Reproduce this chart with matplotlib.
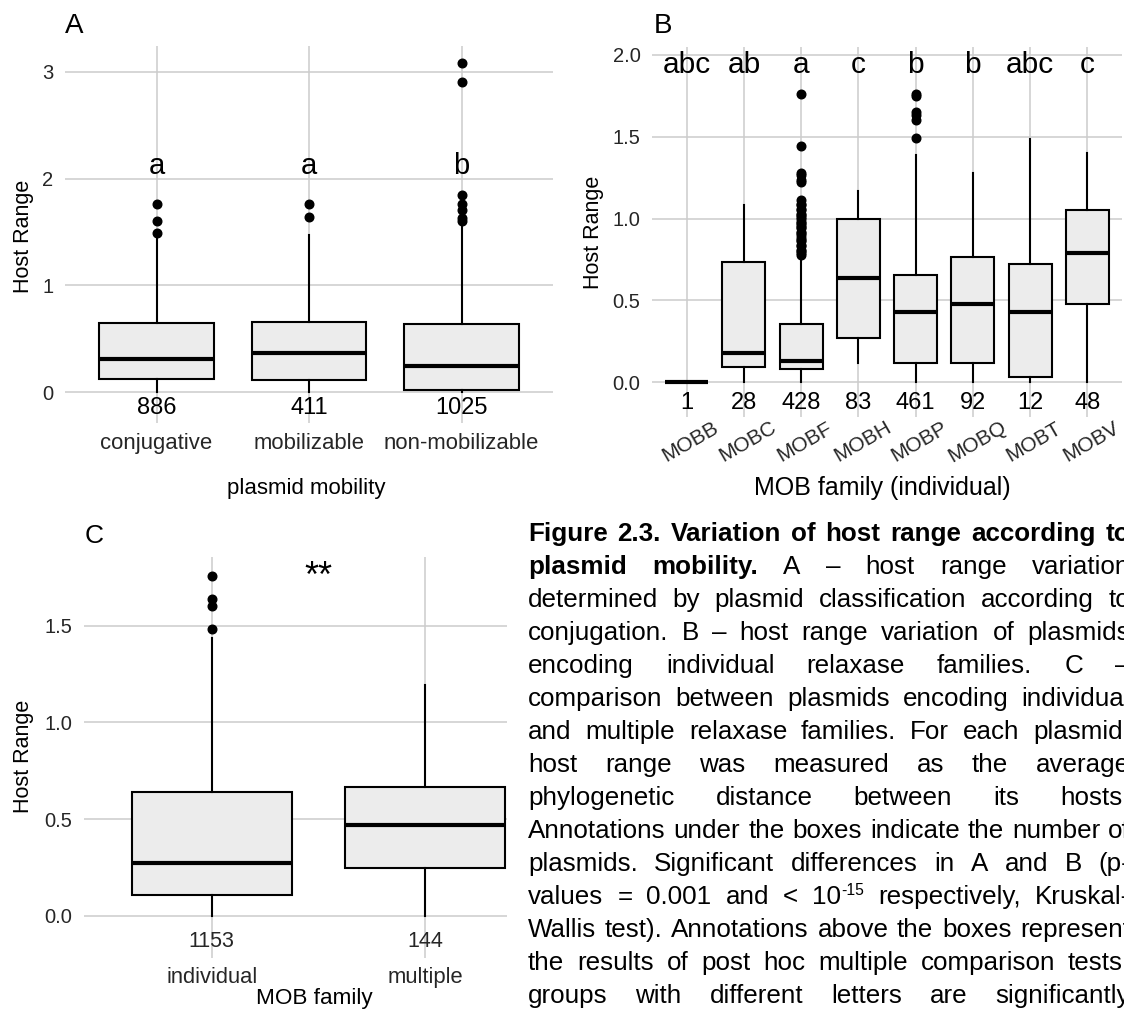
import matplotlib
matplotlib.use("Agg")
import matplotlib.pyplot as plt
import matplotlib.transforms as mtransforms

plt.rcParams["font.family"] = ["Liberation Sans", "DejaVu Sans"]

W, H = 1124, 1010

# --- panel A: host range by plasmid mobility
mob_groups = ["conjugative", "mobilizable", "non-mobilizable"]
mob_counts = ["886", "411", "1025"]
mob_letters = ["a", "a", "b"]
mob_q1 = [0.12, 0.115, 0.02]
mob_med = [0.31, 0.37, 0.25]
mob_q3 = [0.65, 0.66, 0.64]
mob_lo = [0.0, 0.0, 0.0]
mob_hi = [1.46, 1.47, 1.57]
mob_fliers = [[1.49, 1.60, 1.76],
              [1.64, 1.76],
              [1.60, 1.63, 1.71, 1.76, 1.85, 2.90, 3.08]]

# --- panel B: host range by individual MOB family
fam_groups = ["MOBB", "MOBC", "MOBF", "MOBH", "MOBP", "MOBQ", "MOBT", "MOBV"]
fam_counts = ["1", "28", "428", "83", "461", "92", "12", "48"]
fam_letters = ["abc", "ab", "a", "c", "b", "b", "abc", "c"]
fam_q1 = [0.0, 0.096, 0.080, 0.270, 0.117, 0.117, 0.035, 0.477]
fam_med = [0.0, 0.182, 0.131, 0.635, 0.428, 0.479, 0.432, 0.791]
fam_q3 = [0.0, 0.735, 0.359, 0.995, 0.655, 0.763, 0.723, 1.052]
fam_lo = [0.0, 0.0, 0.0, 0.121, 0.0, 0.0, 0.0, 0.0]
fam_hi = [0.0, 1.082, 0.765, 1.168, 1.387, 1.276, 1.483, 1.40]
fam_fliers = [[], [],
              [0.78, 0.79, 0.80, 0.81, 0.83, 0.84, 0.86, 0.87, 0.88, 0.90,
               0.91, 0.92, 0.94, 0.95, 0.96, 0.97, 0.98, 1.00, 1.01, 1.02,
               1.03, 1.05, 1.06, 1.08, 1.09, 1.11, 1.22, 1.235, 1.265,
               1.275, 1.44, 1.76],
              [],
              [1.49, 1.60, 1.63, 1.65, 1.745, 1.76],
              [], [], []]

# --- panel C: individual vs multiple MOB families
nmob_groups = ["individual", "multiple"]
nmob_counts = ["1153", "144"]
nmob_q1 = [0.106, 0.247]
nmob_med = [0.271, 0.469]
nmob_q3 = [0.641, 0.667]
nmob_lo = [0.0, 0.0]
nmob_hi = [1.435, 1.193]
nmob_fliers = [[1.485, 1.60, 1.637, 1.757], []]

caption_lines = [
    "Figure 2.3. Variation of host range according to",
    "plasmid mobility. A \u2013 host range variation",
    "determined by plasmid classification according to",
    "conjugation. B \u2013 host range variation of plasmids",
    "encoding individual relaxase families. C \u2013",
    "comparison between plasmids encoding individual",
    "and multiple relaxase families. For each plasmid,",
    "host range was measured as the average",
    "phylogenetic distance between its hosts.",
    "Annotations under the boxes indicate the number of",
    "plasmids. Significant differences in A and B (p-",
    "values = 0.001 and < 10^-15 respectively, Kruskal-",
    "Wallis test). Annotations above the boxes represent",
    "the results of post hoc multiple comparison tests:",
    "groups with different letters are significantly",
]
caption_bold = {0: 8, 1: 2}   # leading bold words per line

fig = plt.figure(figsize=(W / 100, H / 100), dpi=100)
TXT = "#262626"


def px_axes(x0, y0, x1, y1):
    return fig.add_axes([x0 / W, 1 - y1 / H, (x1 - x0) / W, (y1 - y0) / H])


def ftext(x, y, s, **kw):
    return fig.text(x / W, 1 - y / H, s, **kw)


def boxplot_panel(ax, q1, med, q3, lo, hi, fliers, xlim, ylim, yticks, yfmt):
    stats = [dict(q1=a, med=m, q3=b, whislo=l, whishi=h, fliers=f)
             for a, m, b, l, h, f in zip(q1, med, q3, lo, hi, fliers)]
    pos = list(range(1, len(stats) + 1))
    ax.bxp(stats, positions=pos, widths=0.75, patch_artist=True,
           showcaps=False, manage_ticks=False,
           boxprops=dict(facecolor="#ececec", edgecolor="black", linewidth=1.5),
           medianprops=dict(color="black", linewidth=3.0, solid_capstyle="butt"),
           whiskerprops=dict(color="black", linewidth=1.5),
           flierprops=dict(marker="o", markerfacecolor="black",
                           markeredgecolor="black", markersize=6.2))
    ax.set_xlim(*xlim)
    ax.set_ylim(*ylim)
    ax.set_xticks(pos)
    ax.set_xticklabels([])
    ax.set_yticks(yticks)
    ax.set_yticklabels([yfmt.format(v) for v in yticks])
    ax.tick_params(length=0, labelsize=14.5, pad=8.5, labelcolor=TXT)
    for s in ax.spines.values():
        s.set_visible(False)
    ax.grid(True, color="#cccccc", lw=1.1)
    ax.set_axisbelow(True)
    return pos


def xlabels(ax, pos, labels, ypx, dx=0.0, **kw):
    tr = mtransforms.blended_transform_factory(ax.transData, fig.transFigure)
    for p, lab in zip(pos, labels):
        ax.text(p + dx, 1 - ypx / H, lab, transform=tr, ha="center",
                va="center", color=TXT, **kw)


# ---------------- Panel A
ax_a = px_axes(65, 46, 553, 423.3)
pos = boxplot_panel(ax_a, mob_q1, mob_med, mob_q3, mob_lo, mob_hi, mob_fliers,
                    (0.4, 3.6), (-0.29, 3.24), [0, 1, 2, 3], "{:.0f}")
for p, n, l in zip(pos, mob_counts, mob_letters):
    ax_a.text(p, -0.15, n, ha="center", va="center", fontsize=17)
    ax_a.text(p, 2.12, l, ha="center", va="center", fontsize=21)
xlabels(ax_a, pos, mob_groups, 443.3, fontsize=15.9)
ftext(306, 488.3, "plasmid mobility", ha="center", va="center", fontsize=16)
ftext(23.2, 236.7, "Host Range", ha="center", va="center", rotation=90,
      fontsize=15.5)
ftext(65, 33.3, "A", fontsize=20, va="baseline")

# ---------------- Panel B
ax_b = px_axes(652.4, 46.7, 1121.6, 416.7)
pos = boxplot_panel(ax_b, fam_q1, fam_med, fam_q3, fam_lo, fam_hi, fam_fliers,
                    (0.4, 8.6), (-0.209, 2.048), [0, 0.5, 1.0, 1.5, 2.0], "{:.1f}")
for p, n, l in zip(pos, fam_counts, fam_letters):
    ax_b.text(p, -0.127, n, ha="center", va="center", fontsize=17)
    ax_b.text(p, 1.936, l, ha="center", va="center", fontsize=21.5)
tr = mtransforms.blended_transform_factory(ax_b.transData, fig.transFigure)
for p, lab in zip(pos, fam_groups):
    ax_b.text(p + 0.07, 1 - 442 / H, lab, transform=tr, ha="center", va="center",
              rotation=30, rotation_mode="anchor", fontsize=15, color=TXT)
ftext(882, 488.3, "MOB family (individual)", ha="center", va="center", fontsize=18)
ftext(594, 232.5, "Host Range", ha="center", va="center", rotation=90,
      fontsize=15.5)
ftext(654, 33.3, "B", fontsize=20, va="baseline")

# ---------------- Panel C (right side hidden under the caption)
ax_c = px_axes(83.7, 557.3, 507, 958.3)
pos = boxplot_panel(ax_c, nmob_q1, nmob_med, nmob_q3, nmob_lo, nmob_hi,
                    nmob_fliers, (0.4, 0.4 + (507 - 83.7) / 213.3),
                    (-0.22, 1.854), [0, 0.5, 1.0, 1.5], "{:.1f}")
for p, n in zip(pos, nmob_counts):
    ax_c.text(p, -0.134, n, ha="center", va="center", fontsize=15.5, color=TXT)
ax_c.text(1.5, 1.75, "**", ha="center", va="center", fontsize=26)
xlabels(ax_c, pos, nmob_groups, 977.7, fontsize=15.8)
ftext(314.7, 998.3, "MOB family", ha="center", va="center", fontsize=16.2)
ftext(23.2, 756.7, "Host Range", ha="center", va="center", rotation=90,
      fontsize=15.5)
ftext(84.5, 543.3, "C", fontsize=19, va="baseline")

# ---------------- Caption, justified between x=528 and x=1130 px
cap_fs = 18.7
left, right = 528.0, 1130.0
renderer = fig.canvas.get_renderer()
ident = mtransforms.IdentityTransform()
for i, line in enumerate(caption_lines):
    base_y = H - (540.7 + 33.0 * i)
    nbold = caption_bold.get(i, 0)
    words = []
    for j, w in enumerate(line.split(" ")):
        weight = "bold" if j < nbold else "normal"
        parts = w.split("^")
        segs = [(fig.text(0, 0, parts[0], fontsize=cap_fs, weight=weight,
                          transform=ident), 0.0)]
        if len(parts) > 1:
            segs.append((fig.text(0, 0, parts[1], fontsize=cap_fs * 0.6,
                                  weight=weight, transform=ident), 9.0))
        widths = [t.get_window_extent(renderer).width for t, _ in segs]
        words.append((segs, widths))
    total = sum(sum(ws) for _, ws in words)
    gap = (right - left - total) / max(len(words) - 1, 1)
    x = left
    for segs, widths in words:
        for (t, dy), wd in zip(segs, widths):
            t.set_position((x, base_y + dy))
            t.set_va("baseline")
            x += wd
        x += gap

fig.savefig("out.png", dpi=100)
